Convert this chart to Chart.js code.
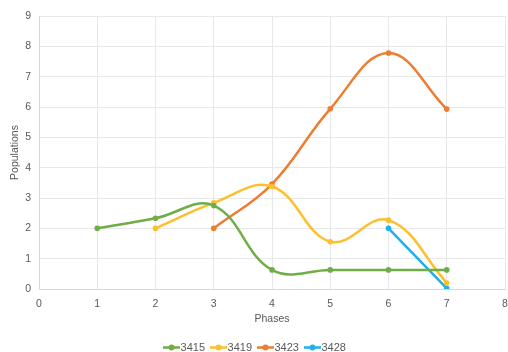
<!DOCTYPE html>
<html>
<head>
<meta charset="utf-8">
<script src="https://cdn.jsdelivr.net/npm/chart.js@4/dist/chart.umd.min.js"></script>
<style>
  html, body { margin: 0; padding: 0; background: #fff; }
  #wrap { width: 508px; height: 352px; }
</style>
</head>
<body>
<div id="wrap"><canvas id="chart" width="508" height="352"></canvas></div>
<script>
// Données
const seriesNames = ['3415', '3419', '3423', '3428'];
const seriesColors = ['#70ad47', '#fdbf2d', '#ed7d31', '#1eb0ec'];
const phases3415 = [1, 2, 3, 4, 5, 6, 7];
const values3415 = [2, 2.33, 2.75, 0.63, 0.63, 0.63, 0.63];
const phases3419 = [2, 3, 4, 5, 6, 7];
const values3419 = [2, 2.84, 3.38, 1.56, 2.27, 0.2];
const phases3423 = [3, 4, 5, 6, 7];
const values3423 = [2, 3.46, 5.94, 7.78, 5.93];
const phases3428 = [6, 7];
const values3428 = [2, 0.02];
const xTicks = [0, 1, 2, 3, 4, 5, 6, 7, 8];
const yTicks = [0, 1, 2, 3, 4, 5, 6, 7, 8, 9];

const allPhases = [phases3415, phases3419, phases3423, phases3428];
const allValues = [values3415, values3419, values3423, values3428];

// Petite icône de légende : trait + point
function legendIcon(color) {
    const c = document.createElement('canvas');
    c.width = 17;
    c.height = 7;
    const g = c.getContext('2d');
    g.strokeStyle = color;
    g.lineWidth = 2.5;
    g.beginPath();
    g.moveTo(0, 3.5);
    g.lineTo(17, 3.5);
    g.stroke();
    g.fillStyle = color;
    g.beginPath();
    g.arc(8.5, 3.5, 3, 0, Math.PI * 2);
    g.fill();
    return c;
}

const datasets = seriesNames.map((name, i) => ({
    label: name,
    data: allPhases[i].map((p, j) => ({ x: p, y: allValues[i][j] })),
    borderColor: seriesColors[i],
    backgroundColor: seriesColors[i],
    borderWidth: 2.5,
    pointRadius: 2.8,
    pointHoverRadius: 3,
    pointBorderWidth: 0,
    tension: 0.4,
    fill: false,
    legendIcon: legendIcon(seriesColors[i])
}));

const fontFamily = '"Liberation Sans", Arial, sans-serif';
const textColor = '#595959';
const axisFont = { family: fontFamily, size: 10.5 };

new Chart(document.getElementById('chart').getContext('2d'), {
    type: 'line',
    data: { datasets },
    options: {
        responsive: false,
        animation: false,
        layout: { padding: { top: 16, right: 2, left: 8, bottom: -11 } },
        plugins: {
            tooltip: { enabled: false },
            legend: {
                position: 'bottom',
                labels: {
                    usePointStyle: true,
                    pointStyleWidth: 7,
                    padding: 10,
                    color: textColor,
                    font: { family: fontFamily, size: 11 },
                    generateLabels: chart => chart.data.datasets.map((ds, i) => ({
                        text: ds.label,
                        pointStyle: ds.legendIcon,
                        fillStyle: ds.borderColor,
                        strokeStyle: ds.borderColor,
                        fontColor: textColor,
                        lineWidth: 0,
                        hidden: false,
                        datasetIndex: i
                    }))
                }
            }
        },
        scales: {
            x: {
                type: 'linear',
                min: 0,
                max: 8,
                afterBuildTicks: axis => { axis.ticks = xTicks.map(v => ({ value: v })); },
                afterFit: scale => {
                    scale.height = 43;
                    scale.paddingLeft = 0;
                    scale.paddingRight = 0;
                },
                grid: { color: '#e6e8ec', drawTicks: false },
                border: { color: '#d6d8dc' },
                ticks: { color: textColor, padding: 9, font: axisFont },
                title: { display: true, text: 'Phases', color: textColor, padding: { top: 0, bottom: 7 }, font: axisFont }
            },
            y: {
                min: 0,
                max: 9,
                afterBuildTicks: axis => { axis.ticks = yTicks.map(v => ({ value: v })); },
                afterFit: scale => {
                    scale.width = 31;
                    scale.paddingTop = 0;
                    scale.paddingBottom = 0;
                },
                grid: { color: '#e6e8ec', drawTicks: false },
                border: { color: '#d6d8dc' },
                ticks: { color: textColor, padding: 8, font: axisFont },
                title: { display: true, text: 'Populations', color: textColor, padding: { top: 1, bottom: 0 }, font: axisFont }
            }
        }
    }
});
</script>
</body>
</html>
